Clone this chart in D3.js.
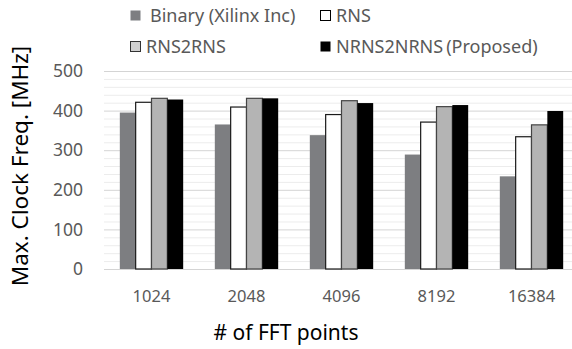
<!DOCTYPE html>
<html>
<head>
<meta charset="UTF-8">
<script src="https://d3js.org/d3.v7.min.js"></script>
<style>
  body { margin: 0; background: #fff; font-family: "Noto Sans", Arial, sans-serif; }
</style>
</head>
<body>
<svg width="572" height="349"></svg>
<script>
// data
const fftPoints = ["1024", "2048", "4096", "8192", "16384"];
const seriesNames = ["Binary (Xilinx Inc)", "RNS", "RNS2RNS", "NRNS2NRNS\u2009(Proposed)"];
const binary = [395, 365, 338, 289, 234];
const rns = [421, 409, 390, 371, 334];
const rns2rns = [431, 431, 425, 410, 364];
const nrns2nrns = [428, 431, 419, 414, 399];
const yTicks = [0, 100, 200, 300, 400, 500];

const series = [binary, rns, rns2rns, nrns2nrns];
const fills = ["#7d7e81", "#ffffff", "#b4b4b4", "#000000"];
const strokes = ["none", "#1a1a1a", "#444", "none"];

const svg = d3.select("svg");
const plotL = 104, plotR = 579, plotT = 71, plotB = 269;

const x = d3.scaleBand().domain(fftPoints).range([plotL, plotR]).paddingInner(0.333).paddingOuter(0.1665);
const xs = d3.scaleBand().domain(d3.range(4)).range([0, x.bandwidth()]);
const y = d3.scaleLinear().domain([0, 500]).range([plotB, plotT]);

// grid: minor every 20, major every 100
const minor = d3.range(20, 500, 20).filter(v => v % 100 !== 0);
svg.append("g").selectAll("line").data(minor).join("line")
  .attr("x1", plotL).attr("x2", 572)
  .attr("y1", d => y(d) + 0.5).attr("y2", d => y(d) + 0.5)
  .attr("stroke", "#ececec").attr("stroke-width", 1);
svg.append("g").selectAll("line").data(yTicks).join("line")
  .attr("x1", plotL).attr("x2", 572)
  .attr("y1", d => y(d) + 0.5).attr("y2", d => y(d) + 0.5)
  .attr("stroke", "#d4d4d4").attr("stroke-width", 1);

// bars
series.forEach((vals, si) => {
  svg.append("g").selectAll("rect").data(vals).join("rect")
    .attr("x", (d, i) => x(fftPoints[i]) + xs(si))
    .attr("y", d => y(d))
    .attr("width", xs.bandwidth())
    .attr("height", d => y(0) - y(d))
    .attr("fill", fills[si])
    .attr("stroke", strokes[si])
    .attr("stroke-width", 1.2);
});

// y tick labels
svg.append("g").selectAll("text").data(yTicks).join("text")
  .attr("x", 83).attr("y", d => y(d))
  .attr("dy", "0.35em")
  .attr("text-anchor", "end")
  .attr("font-size", 17.5)
  .attr("fill", "#595959")
  .text(d => d);

// x tick labels
svg.append("g").selectAll("text").data(fftPoints).join("text")
  .attr("x", d => x(d) + x.bandwidth() / 2)
  .attr("y", 302)
  .attr("text-anchor", "middle")
  .attr("font-size", 16.5)
  .attr("fill", "#595959")
  .text(d => d);

// axis titles
svg.append("text")
  .attr("transform", "translate(28,166) rotate(-90)")
  .attr("text-anchor", "middle")
  .attr("font-size", 22.5)
  .attr("fill", "#000")
  .text("Max. Clock Freq. [MHz]");

svg.append("text")
  .attr("x", 286).attr("y", 340)
  .attr("text-anchor", "middle")
  .attr("font-size", 21)
  .attr("fill", "#000")
  .text("# of FFT points");

// legend
const legPos = [[130, 16], [320, 16], [130, 47], [320, 47]];
const legStroke = ["none", "#000", "#333", "none"];
seriesNames.forEach((name, i) => {
  const g = svg.append("g").attr("transform", `translate(${legPos[i][0]},${legPos[i][1]})`);
  g.append("rect")
    .attr("x", 0.5).attr("y", -5.5).attr("width", 10).attr("height", 10)
    .attr("fill", i === 2 ? "#d0d0d0" : fills[i])
    .attr("stroke", legStroke[i]).attr("stroke-width", 1);
  g.append("text")
    .attr("x", i === 0 ? 20 : 16).attr("y", 0)
    .attr("dy", "0.35em")
    .attr("font-size", 18)
    .attr("fill", "#595959")
    .text(name);
});
</script>
</body>
</html>
